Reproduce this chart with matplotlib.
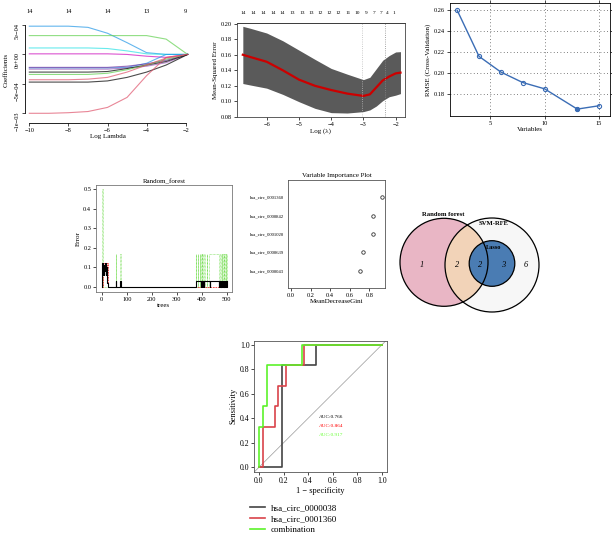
import numpy as np
import matplotlib
matplotlib.use('Agg')
import matplotlib.pyplot as plt
from matplotlib.patches import Circle

plt.rcParams['font.family'] = ['Liberation Serif', 'DejaVu Serif']
plt.rcParams['axes.linewidth'] = 0.6
plt.rcParams['xtick.major.width'] = 0.5
plt.rcParams['ytick.major.width'] = 0.5
plt.rcParams['xtick.major.size'] = 2
plt.rcParams['ytick.major.size'] = 2
plt.rcParams['xtick.major.pad'] = 1.5
plt.rcParams['ytick.major.pad'] = 1.5

# ---- data ----
# lasso coefficient paths (x1e-4)
lam_x = [-10, -9, -8, -7, -6, -5, -4, -3, -1.9]
coef_paths = [
    [4.8, 4.8, 4.8, 4.6, 3.6, 2.0, 0.3, 0.0, 0.0],
    [3.2, 3.2, 3.2, 3.2, 3.2, 3.2, 3.2, 2.6, 0.0],
    [1.1, 1.1, 1.1, 1.1, 1.0, 0.6, 0.1, 0.0, 0.0],
    [0.1, 0.1, 0.1, 0.1, 0.1, 0.0, -0.3, -0.5, 0.0],
    [-2.3, -2.3, -2.3, -2.3, -2.3, -2.2, -1.5, 0.0, 0.0],
    [-2.2, -2.2, -2.2, -2.2, -2.2, -2.0, -1.6, -1.0, 0.0],
    [-2.5, -2.5, -2.5, -2.5, -2.5, -2.3, -2.0, -1.4, 0.0],
    [-3.0, -3.0, -3.0, -3.0, -2.9, -2.4, -1.8, -1.2, 0.0],
    [-3.4, -3.4, -3.4, -3.4, -3.2, -2.6, -1.8, -0.8, 0.0],
    [-4.3, -4.3, -4.3, -4.2, -3.9, -3.0, -1.8, -0.6, 0.0],
    [-4.7, -4.7, -4.7, -4.7, -4.5, -3.9, -3.0, -1.8, 0.0],
    [-10.0, -10.0, -9.9, -9.7, -9.0, -7.3, -3.6, -0.5, 0.0],
]
path_colors = ['#2297E6', '#61D04F', '#28E2E5', '#CD0BBC', '#2297E6', '#7030a0',
               '#9b59b6', 'black', '#61D04F', '#DF536B', 'black', '#DF536B']
df_pos = [-10, -8, -6, -4, -2]
df_lab = [14, 14, 14, 13, 9]

# cross-validated MSE
cv_x = [-6.74, -6.5, -6.0, -5.5, -5.0, -4.5, -4.0, -3.5, -3.0, -2.8, -2.6, -2.4, -2.2, -2.0, -1.85]
cv_mean = [0.160, 0.157, 0.151, 0.140, 0.128, 0.120, 0.1146, 0.110, 0.107, 0.109, 0.118, 0.127, 0.132, 0.136, 0.137]
cv_up = [0.1966, 0.194, 0.188, 0.178, 0.166, 0.154, 0.1424, 0.135, 0.128, 0.131, 0.142, 0.153, 0.159, 0.1636, 0.164]
cv_lo = [0.123, 0.121, 0.117, 0.109, 0.0996, 0.091, 0.0855, 0.085, 0.0868, 0.089, 0.094, 0.101, 0.106, 0.108, 0.110]
lam_min, lam_1se = -3.03, -2.33
nz_pos = [-6.74, -6.41, -6.10, -5.79, -5.52, -5.22, -4.91, -4.63, -4.35,
          -4.07, -3.78, -3.49, -3.18, -2.90, -2.66, -2.46, -2.25, -2.06]
nz_lab = [14, 14, 14, 14, 14, 13, 13, 13, 12, 12, 12, 11, 10, 9, 7, 7, 4, 1]

# SVM-RFE
rfe_vars = [2, 4, 6, 8, 10, 13, 15]
rfe_rmse = [0.260, 0.216, 0.201, 0.191, 0.185, 0.1656, 0.1688]

# random forest error
oob = [(1, 0.0), (3, 0.12), (5, 0.06), (7, 0.11), (9, 0.06), (11, 0.10), (13, 0.08),
       (15, 0.12), (17, 0.06), (19, 0.10), (21, 0.05), (23, 0.02), (25, 0.0),
       (56, 0.03), (58, 0.0), (75, 0.03), (77, 0.0), (378, 0.03), (396, 0.0),
       (398, 0.03), (400, 0.0), (402, 0.03), (404, 0.0), (406, 0.03), (408, 0.0),
       (410, 0.03), (432, 0.0), (434, 0.03), (468, 0.0), (470, 0.03), (472, 0.0),
       (476, 0.03), (478, 0.0), (482, 0.03), (484, 0.0), (488, 0.03), (490, 0.0),
       (494, 0.03), (496, 0.0), (500, 0.03)]
cls0 = [(1, 0.0), (4, 0.12), (8, 0.08), (12, 0.12), (16, 0.10), (20, 0.12), (24, 0.0), (500, 0.0)]
cls1 = [(1, 0.0), (3, 0.5), (5, 0.0), (56, 0.167), (58, 0.0), (75, 0.167), (77, 0.0),
        (376, 0.167), (378, 0.0), (385, 0.167), (387, 0.0), (392, 0.167), (394, 0.0),
        (398, 0.167), (400, 0.0), (403, 0.167), (405, 0.0), (410, 0.167), (412, 0.0),
        (420, 0.167), (422, 0.0), (430, 0.167), (470, 0.0), (475, 0.167), (477, 0.0),
        (481, 0.167), (483, 0.0), (486, 0.167), (488, 0.0), (491, 0.167), (493, 0.0),
        (496, 0.167), (498, 0.0), (500, 0.167)]

# variable importance
vi_names = ['hsa_circ_0000043', 'hsa_circ_0000639', 'hsa_circ_0001020',
            'hsa_circ_0000842', 'hsa_circ_0001360']
vi_gini = [0.705, 0.74, 0.835, 0.835, 0.925]

# venn counts
venn_sets = ['Random forest', 'SVM-RFE', 'Lasso']
venn_counts = [1, 2, 2, 3, 6]   # RF only, RF&SVM, all three, SVM&Lasso, SVM only

# ROC
roc_names = ['hsa_circ_0000038', 'hsa_circ_0001360', 'combination']
roc_colors = ['#444444', '#d9434a', '#5cf22a']
roc_fpr = [[0, 0.185, 0.185, 0.465, 0.465, 1.0],
           [0, 0.03, 0.03, 0.13, 0.13, 0.157, 0.157, 0.22, 0.22, 0.37, 0.37, 1.0],
           [0, 0, 0.03, 0.03, 0.065, 0.065, 0.35, 0.35, 1.0]]
roc_tpr = [[0, 0, 0.833, 0.833, 1.0, 1.0],
           [0, 0, 0.333, 0.333, 0.5, 0.5, 0.667, 0.667, 0.833, 0.833, 1.0, 1.0],
           [0, 0.333, 0.333, 0.5, 0.5, 0.833, 0.833, 1.0, 1.0]]
roc_auc = [0.766, 0.864, 0.917]
auc_colors = ['black', 'red', '#66ff33']

W, H = 612, 539
fig = plt.figure(figsize=(W / 100, H / 100), dpi=100)


def box(l, t, r, b):
    return fig.add_axes([l / W, 1 - b / H, (r - l) / W, (b - t) / H])


fs = 4.6

# ---- panel 1: lasso paths ----
ax1 = box(26, 20, 190, 119)
for c, col in zip(coef_paths, path_colors):
    ax1.plot(lam_x, np.array(c) * 1e-4, color=col, lw=0.8, alpha=0.7)
ax1.set_xlim(-10.17, -1.78)
ax1.set_ylim(-1.097e-3, 5.85e-4)
ax1.set_xticks([-10, -8, -6, -4, -2])
ax1.set_yticks([-1e-3, -5e-4, 0, 5e-4])
ax1.set_yticklabels(['−1e−03', '−5e−04', '0e+00', '5e−04'])
ax1.tick_params(labelsize=fs)
ax1.tick_params(axis='y', labelrotation=90)
for lbl in ax1.get_yticklabels():
    lbl.set_va('center')
for s in ['top', 'right']:
    ax1.spines[s].set_visible(False)
ax1.spines['left'].set_bounds(-1e-3, 5e-4)
ax1.spines['bottom'].set_bounds(-10, -2)
ax1.spines['left'].set_position(('outward', 1))
ax1.spines['bottom'].set_position(('outward', 3))
ax1.set_xlabel('Log Lambda', fontsize=5, labelpad=1)
ax1.set_ylabel('Coefficients', fontsize=5)
ax1.yaxis.set_label_coords(-0.105, 0.5)
t1 = ax1.secondary_xaxis('top')
t1.set_xticks(df_pos)
t1.set_xticklabels([str(v) for v in df_lab])
t1.tick_params(labelsize=fs, length=0, pad=4)
t1.spines['top'].set_visible(False)

# ---- panel 2: cv MSE ----
ax2 = box(236.7, 23.3, 405, 117.3)
ax2.fill_between(cv_x, cv_lo, cv_up, color='#5a5a5a', lw=0)
ax2.plot(cv_x, cv_mean, color='#cc0000', lw=1.6)
ax2.axvline(lam_min, color='#bbbbbb', ls=':', lw=0.6)
ax2.axvline(lam_1se, color='#888888', ls=':', lw=0.6)
ax2.set_xlim(-6.93, -1.71)
ax2.set_ylim(0.0795, 0.2005)
ax2.set_xticks([-6, -5, -4, -3, -2])
ax2.set_yticks([0.08, 0.10, 0.12, 0.14, 0.16, 0.18, 0.20])
ax2.set_yticklabels(['0.08', '0.10', '0.12', '0.14', '0.16', '0.18', '0.20'])
ax2.tick_params(labelsize=fs)
ax2.set_xlabel('Log (λ)', fontsize=5, labelpad=1)
ax2.set_ylabel('Mean-Squared Error', fontsize=5, labelpad=2)
for s in ax2.spines.values():
    s.set_color('#444444')
t2 = ax2.secondary_xaxis('top')
t2.set_xticks(nz_pos)
t2.set_xticklabels([str(v) for v in nz_lab])
t2.tick_params(labelsize=3.9, length=0, pad=6)

# ---- panel 3: RFE ----
ax3 = box(450, 3, 610, 116)
ax3.plot(rfe_vars, rfe_rmse, color='#3b6db5', lw=1.0, marker='o', ms=3,
         mfc='none', mew=0.8)
best = int(np.argmin(rfe_rmse))
ax3.plot(rfe_vars[best], rfe_rmse[best], 'o', color='#3b6db5', ms=2.5)
ax3.set_xlim(1.34, 16.0)
ax3.set_ylim(0.159, 0.267)
ax3.set_xticks([5, 10, 15])
ax3.set_yticks([0.18, 0.20, 0.22, 0.24, 0.26])
ax3.set_yticklabels(['0.18', '0.20', '0.22', '0.24', '0.26'])
ax3.grid(True, ls=(0, (1, 3)), color='#555555', lw=0.6)
ax3.tick_params(labelsize=fs, top=True, right=True)
ax3.set_xlabel('Variables', fontsize=5, labelpad=1)
ax3.set_ylabel('RMSE (Cross-Validation)', fontsize=5, labelpad=2)

# ---- panel 4: random forest ----
ax4 = box(96, 185, 231.7, 291.7)
tr, er = zip(*cls1)
ax4.plot(tr, er, color='#77dd55', ls=(0, (1, 1)), lw=0.5, drawstyle='steps-post')
tr, er = zip(*cls0)
ax4.plot(tr, er, color='#ee3333', ls=(0, (2, 1)), lw=0.6, drawstyle='steps-post')
tr, er = zip(*oob)
ax4.plot(tr, er, color='black', lw=0.8, drawstyle='steps-post')
ax4.set_xlim(-22.8, 520)
ax4.set_ylim(-0.026, 0.522)
ax4.set_xticks([0, 100, 200, 300, 400, 500])
ax4.set_yticks([0.0, 0.1, 0.2, 0.3, 0.4, 0.5])
ax4.tick_params(labelsize=fs)
ax4.set_title('Random_forest', fontsize=5, pad=1.5)
ax4.set_xlabel('trees', fontsize=5, labelpad=1)
ax4.set_ylabel('Error', fontsize=5, labelpad=2)
for s in ax4.spines.values():
    s.set_color('#777777')

# ---- panel 5: variable importance ----
ax5 = box(288.3, 180, 385, 288)
ypos = np.arange(1, len(vi_gini) + 1)
ax5.plot(vi_gini, ypos, 'o', mfc='none', mec='#333333', ms=2.5, mew=0.6)
ax5.set_xlim(-0.028, 0.96)
ax5.set_ylim(0.05, 5.95)
ax5.set_yticks(ypos)
ax5.set_yticklabels(vi_names)
ax5.tick_params(axis='y', length=0, labelsize=3.4, pad=3)
ax5.set_xticks([0.0, 0.2, 0.4, 0.6, 0.8])
ax5.tick_params(axis='x', labelsize=fs)
ax5.set_title('Variable Importance Plot', fontsize=5, pad=2)
ax5.set_xlabel('MeanDecreaseGini', fontsize=5, labelpad=1)
for s in ax5.spines.values():
    s.set_color('#555555')

# ---- panel 6: venn ----
ax6 = box(390, 200, 560, 320)
ax6.set_xlim(390, 560)
ax6.set_ylim(320, 200)
ax6.axis('off')
svm = Circle((492, 265), 47, fc='#f7f7f7', ec='none')
rf = Circle((444, 262.3), 44, fc='#e9b6c5', ec='none')
both = Circle((444, 262.3), 44, fc='#f2d3b8', ec='none')
las = Circle((492, 263.5), 22.8, fc='#4a7cb3', ec='none')
ax6.add_patch(svm)
ax6.add_patch(rf)
ax6.add_patch(both)
both.set_clip_path(Circle((492, 265), 47, transform=ax6.transData))
ax6.add_patch(las)
for c in [(444, 262.3, 44), (492, 265, 47), (492, 263.5, 22.8)]:
    ax6.add_patch(Circle((c[0], c[1]), c[2], fc='none', ec='black', lw=0.9))
for (x, y), n in zip([(421.7, 265), (456.7, 265), (480, 265), (503.3, 265), (525.7, 265)], venn_counts):
    ax6.text(x, y, str(n), fontsize=6, style='italic', ha='center', va='center')
ax6.text(443.3, 214.3, venn_sets[0], fontsize=4.8, weight='bold', ha='center', va='center')
ax6.text(493.3, 223.3, venn_sets[1], fontsize=4.8, weight='bold', ha='center', va='center')
ax6.text(493.3, 247.3, venn_sets[2], fontsize=4.6, weight='bold', ha='center', va='center')

# ---- panel 7: ROC ----
ax7 = box(254.3, 340.7, 386.7, 471.7)
ax7.plot([-0.04, 1.04], [-0.04, 1.04], color='#999999', lw=0.5)
handles = []
for fx, ty, col in zip(roc_fpr, roc_tpr, roc_colors):
    h, = ax7.plot(fx, ty, color=col, lw=1.2)
    handles.append(h)
ax7.set_xlim(-0.038, 1.041)
ax7.set_ylim(-0.036, 1.035)
ticks = [0.0, 0.2, 0.4, 0.6, 0.8, 1.0]
ax7.set_xticks(ticks)
ax7.set_yticks(ticks)
ax7.tick_params(labelsize=5.6)
ax7.set_xlabel('1 − specificity', fontsize=6, labelpad=1.5)
ax7.set_ylabel('Sensitivity', fontsize=6, labelpad=2)
for s in ax7.spines.values():
    s.set_color('#555555')
for i, (a, col) in enumerate(zip(roc_auc, auc_colors)):
    ax7.text(0.49, 0.40 - i * 0.072, 'AUC:%.3f' % a, color=col, fontsize=3.8)
fig.legend(handles, roc_names, loc='upper left', bbox_to_anchor=(250 / W, 1 - 504 / H),
           frameon=False, fontsize=6.5, handlelength=1.7, handletextpad=0.6,
           labelspacing=0.3, borderaxespad=0, borderpad=0)

fig.savefig('out.png', dpi=100)
